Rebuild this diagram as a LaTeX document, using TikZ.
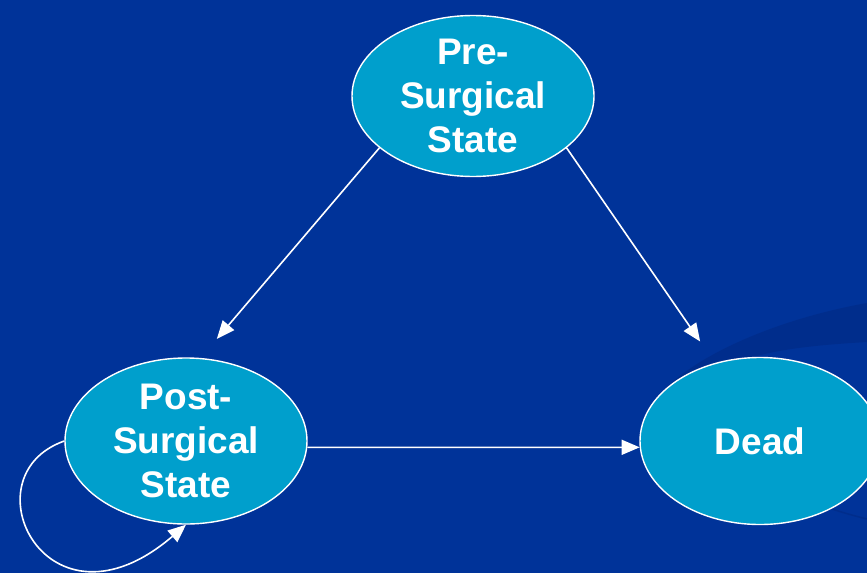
\documentclass[tikz,border=0pt]{standalone}
\usepackage{fontspec}
\setmainfont{Liberation Sans}
\usetikzlibrary{shapes.geometric,arrows.meta}
\definecolor{bgblue}{HTML}{003399}
\definecolor{swoosh}{HTML}{002D8C}
\definecolor{statefill}{HTML}{009FCC}
\tikzset{
  statenode/.style={ellipse, draw=white, line width=1.4pt, fill=statefill,
    text=white, align=center, inner sep=0pt,
    font=\fontsize{37}{44}\selectfont\bfseries},
  trans/.style={draw=white, line width=1.6pt,
    -{Triangle[length=18pt,width=15pt]}}
}
\begin{document}
\begin{tikzpicture}[x=1pt,y=-1pt]
  % page background
  \fill[bgblue] (0,0) rectangle (867,573);
  \useasboundingbox (0,0) rectangle (867,573);
  % decorative swoosh at the right
  \fill[swoosh] (642,425) .. controls (655,372) and (760,322) .. (867,303)
    -- (867,342) .. controls (800,346) and (740,352) .. (705,380) -- cycle;
  \draw[swoosh, line width=1.5pt] (820,505) .. controls (840,512) and (855,516) .. (867,519);

  % states
  \node[statenode, minimum width=242pt, minimum height=158pt] (pre) at (473,96) {Pre-\\Surgical\\State};
  \node[statenode, minimum width=242pt, minimum height=166pt] (post) at (186,441) {Post-\\Surgical\\State};
  \node[statenode, minimum width=240pt, minimum height=167pt] (dead) at (760,441) {Dead};

  % transitions
  \draw[trans, shorten >=25pt] (pre.209) -- (post.80);
  \draw[trans, shorten >=26pt] (pre.331) -- (dead.120);
  \draw[trans] (post.-3) -- (dead.183);
  \draw[trans] (post.180) .. controls (-35,476) and (47,644) .. (post.south);
\end{tikzpicture}
\end{document}
